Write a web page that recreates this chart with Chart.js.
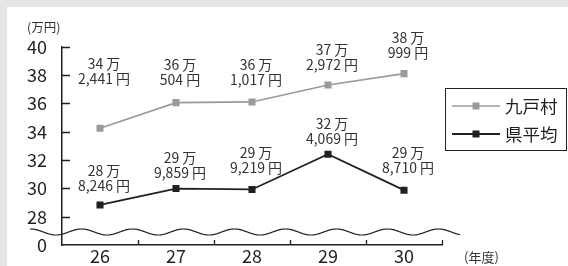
<!DOCTYPE html>
<html>
<head>
<meta charset="utf-8">
<script src="https://cdn.jsdelivr.net/npm/chart.js@4/dist/chart.umd.min.js"></script>
<style>
  html, body { margin: 0; padding: 0; background: #e6e6e6; }
  #wrap { width: 568px; height: 266px; }
</style>
</head>
<body>
<div id="wrap"><canvas id="c" width="568" height="266"></canvas></div>
<script>
const years = ["26", "27", "28", "29", "30"];
const kunohe = [342441, 360504, 361017, 372972, 380999];   // 九戸村 (円)
const kenAvg = [288246, 299859, 299219, 324069, 298710];   // 県平均 (円)
const yTicks = [26, 28, 30, 32, 34, 36, 38, 40];           // 26 は "0" として表示

const INK = "#231f20";
const GRAY = "#9a9a9a";
const FONT = '"Noto Sans CJK JP", "Noto Sans", sans-serif';

const toMan = arr => arr.map(v => v / 10000);

function labelLines(yen) {
    const man = Math.floor(yen / 10000);
    const rest = yen % 10000;
    return [man + " 万", rest.toLocaleString("en-US") + " 円"];
}

// 値ラベルの縦位置(点からの距離)
const labelLift = [[50, 23, 22, 20, 21], [19, 16, 22, 16, 22]];

const decor = {
    id: "decor",
    beforeDraw(chart) {
        const c = chart.ctx;
        c.save();
        c.fillStyle = "#e6e6e6";
        c.fillRect(0, 0, chart.width, chart.height);
        c.fillStyle = "#ffffff";
        c.fillRect(7, 7, chart.width - 7, chart.height - 7);
        c.restore();
    },
    afterDraw(chart) {
        const c = chart.ctx;
        const x = chart.scales.x, y = chart.scales.y;
        const area = chart.chartArea;
        c.save();
        c.strokeStyle = INK;
        c.lineWidth = 1.3;
        // y 目盛 (内向き)
        c.beginPath();
        yTicks.forEach(t => {
            if (t === 26) return;
            const py = Math.round(y.getPixelForValue(t)) + 0.5;
            c.moveTo(area.left, py);
            c.lineTo(area.left + 8, py);
        });
        // x 目盛 (区切り)
        const half = (x.getPixelForValue(1) - x.getPixelForValue(0)) / 2;
        years.forEach((_, i) => {
            const px = Math.round(x.getPixelForValue(i) + half) + 0.5;
            c.moveTo(px, area.bottom);
            c.lineTo(px, area.bottom - 5);
        });
        c.stroke();

        // 省略線
        c.beginPath();
        c.lineWidth = 1.2;
        const wy = 232;
        for (let px = 30; px <= 460; px++) {
            const py = wy - 3 * Math.cos(2 * Math.PI * (px - 81.5) / 51);
            if (px === 30) c.moveTo(px, py); else c.lineTo(px, py);
        }
        c.stroke();

        // 値ラベル
        c.fillStyle = "#333333";
        c.font = "14px " + FONT;
        c.textAlign = "center";
        c.textBaseline = "middle";
        [kunohe, kenAvg].forEach((arr, di) => {
            const meta = chart.getDatasetMeta(di);
            arr.forEach((v, i) => {
                const pt = meta.data[i];
                const lines = labelLines(v);
                const y2 = pt.y - labelLift[di][i];
                c.fillText(lines[0], pt.x + 4, y2 - 15);
                c.fillText(lines[1], pt.x + 4, y2);
            });
        });

        // 単位
        c.fillStyle = "#333333";
        c.font = "12.5px " + FONT;
        c.textAlign = "left";
        c.fillText("(万円)", 27, 27);
        c.font = "13px " + FONT;
        c.fillText("(年度)", 464, 257);

        // 凡例
        c.lineWidth = 1;
        c.strokeStyle = INK;
        c.strokeRect(445.5, 88.5, 121, 62);
        const items = [
            { text: "九戸村", color: GRAY, y: 106 },
            { text: "県平均", color: INK, y: 134 }
        ];
        items.forEach(it => {
            c.strokeStyle = it.color;
            c.lineWidth = it.color === INK ? 1.8 : 1.5;
            c.beginPath();
            c.moveTo(452, it.y);
            c.lineTo(500, it.y);
            c.stroke();
            c.fillStyle = it.color;
            c.fillRect(472.5, it.y - 3.5, 7, 7);
            c.fillStyle = INK;
            c.font = "17.5px " + FONT;
            c.textAlign = "left";
            c.fillText(it.text, 505, it.y);
        });
        c.restore();
    }
};

new Chart(document.getElementById("c"), {
    type: "line",
    data: {
        labels: years,
        datasets: [
            {
                label: "九戸村",
                data: toMan(kunohe),
                borderColor: GRAY,
                backgroundColor: GRAY,
                borderWidth: 1.6,
                pointStyle: "rect",
                pointRadius: 5,
                pointBorderWidth: 0,
                tension: 0
            },
            {
                label: "県平均",
                data: toMan(kenAvg),
                borderColor: INK,
                backgroundColor: INK,
                borderWidth: 1.8,
                pointStyle: "rect",
                pointRadius: 5,
                pointBorderWidth: 0,
                tension: 0
            }
        ]
    },
    options: {
        responsive: false,
        animation: false,
        layout: { padding: { left: 0, right: 126, top: 46.7, bottom: 0 } },
        plugins: { legend: { display: false }, tooltip: { enabled: false } },
        scales: {
            x: {
                offset: true,
                grid: { display: false },
                border: { display: true, color: INK, width: 1.5 },
                ticks: { color: INK, font: { size: 18, family: FONT }, padding: -8 },
                afterFit: s => { s.height = 21; }
            },
            y: {
                min: 26,
                max: 40,
                afterBuildTicks: s => { s.ticks = yTicks.map(v => ({ value: v })); },
                grid: { display: false },
                border: { display: true, color: INK, width: 1.5 },
                ticks: {
                    color: INK,
                    font: { size: 18, family: FONT },
                    padding: 7,
                    callback: v => v === 26 ? "0" : String(v)
                },
                afterFit: s => { s.width = 62; }
            }
        }
    },
    plugins: [decor]
});
</script>
</body>
</html>
